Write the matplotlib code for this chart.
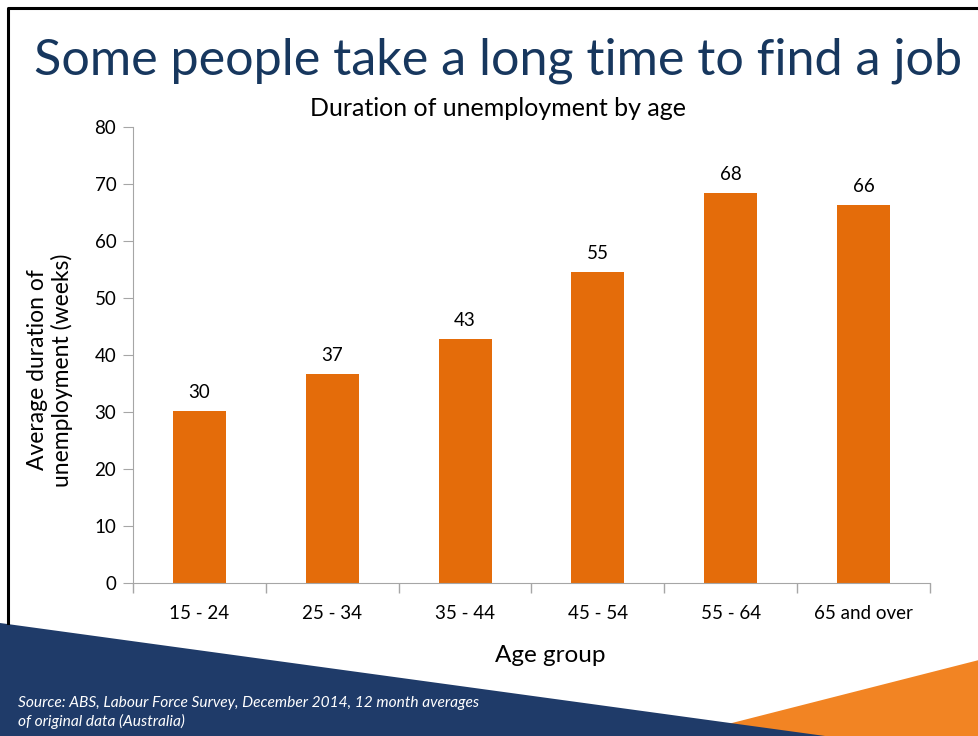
import numpy as np
import matplotlib
matplotlib.use('Agg')
import matplotlib.pyplot as plt
from matplotlib.patches import Polygon
from matplotlib.lines import Line2D

plt.rcParams['font.family'] = ['Lato', 'DejaVu Sans']

age_groups = ['15 - 24', '25 - 34', '35 - 44', '45 - 54', '55 - 64', '65 and over']
weeks = [30.2, 36.7, 42.8, 54.6, 68.4, 66.3]
y_ticks = [0, 10, 20, 30, 40, 50, 60, 70, 80]

W, H = 979, 736
fig = plt.figure(figsize=(W / 100, H / 100), dpi=100)

def px(x, y):
    # pixel position (from top left) to figure fraction
    return (x / W, 1 - y / H)

# slide decorations
orange = Polygon([px(681, 736), px(979, 660), px(979, 736)], closed=True,
                 facecolor='#F28423', edgecolor='none', transform=fig.transFigure)
blue = Polygon([px(0, 623), px(825, 736), px(0, 736)], closed=True,
               facecolor='#1F3B69', edgecolor='none', transform=fig.transFigure)
fig.patches.extend([orange, blue])
fig.lines.append(Line2D([8 / W, 8 / W, 1], [1 - 623 / H, 1 - 8 / H, 1 - 8 / H],
                        color='black', lw=2.2, transform=fig.transFigure))

fig.text(*px(498, 61), 'Some people take a long time to find a job', ha='center',
         va='center', fontsize=36.2, color='#17375E')
fig.text(*px(498, 109), 'Duration of unemployment by age', ha='center',
         va='center', fontsize=18, color='black')

l, t = px(133, 127)
r, b = px(930, 583)
ax = fig.add_axes([l, b, r - l, t - b])
x = np.arange(len(age_groups))
bars = ax.bar(x, weeks, width=0.4, color='#E46C0A')
for xi, v in zip(x, weeks):
    ax.text(xi, v + 1.8, f'{v:.0f}', ha='center', va='bottom', fontsize=13.5)

ax.set_xlim(-0.5, len(age_groups) - 0.5)
ax.set_ylim(0, 80)
ax.set_yticks(y_ticks)
ax.set_xticks(x)
ax.set_xticklabels(age_groups, fontsize=13.5)
ax.tick_params(axis='x', length=0, pad=16)
ax.set_xticks(np.arange(len(age_groups) + 1) - 0.5, minor=True)
ax.tick_params(axis='x', which='minor', length=7, color='#A6A6A6', width=1)
ax.tick_params(axis='y', labelsize=13.5, length=7, color='#A6A6A6', pad=5)
for s in ['top', 'right']:
    ax.spines[s].set_visible(False)
for s in ['left', 'bottom']:
    ax.spines[s].set_color('#A6A6A6')
ax.set_ylabel('Average duration of\nunemployment (weeks)', fontsize=16.5)
ax.yaxis.set_label_coords(50 / W, 1 - 370 / H, transform=fig.transFigure)
ax.set_xlabel('Age group', fontsize=17.5)
ax.xaxis.set_label_coords(550 / W, 1 - 656 / H, transform=fig.transFigure)
ax.xaxis.label.set_va('center')
ax.yaxis.label.set_va('center')

fig.text(18 / W, 1 - 703 / H, 'Source: ABS, Labour Force Survey, December 2014, 12 month averages',
         fontsize=11.2, style='italic', color='white', va='center')
fig.text(18 / W, 1 - 721 / H, 'of original data (Australia)',
         fontsize=11.2, style='italic', color='white', va='center')

fig.savefig('out.png', dpi=100)
